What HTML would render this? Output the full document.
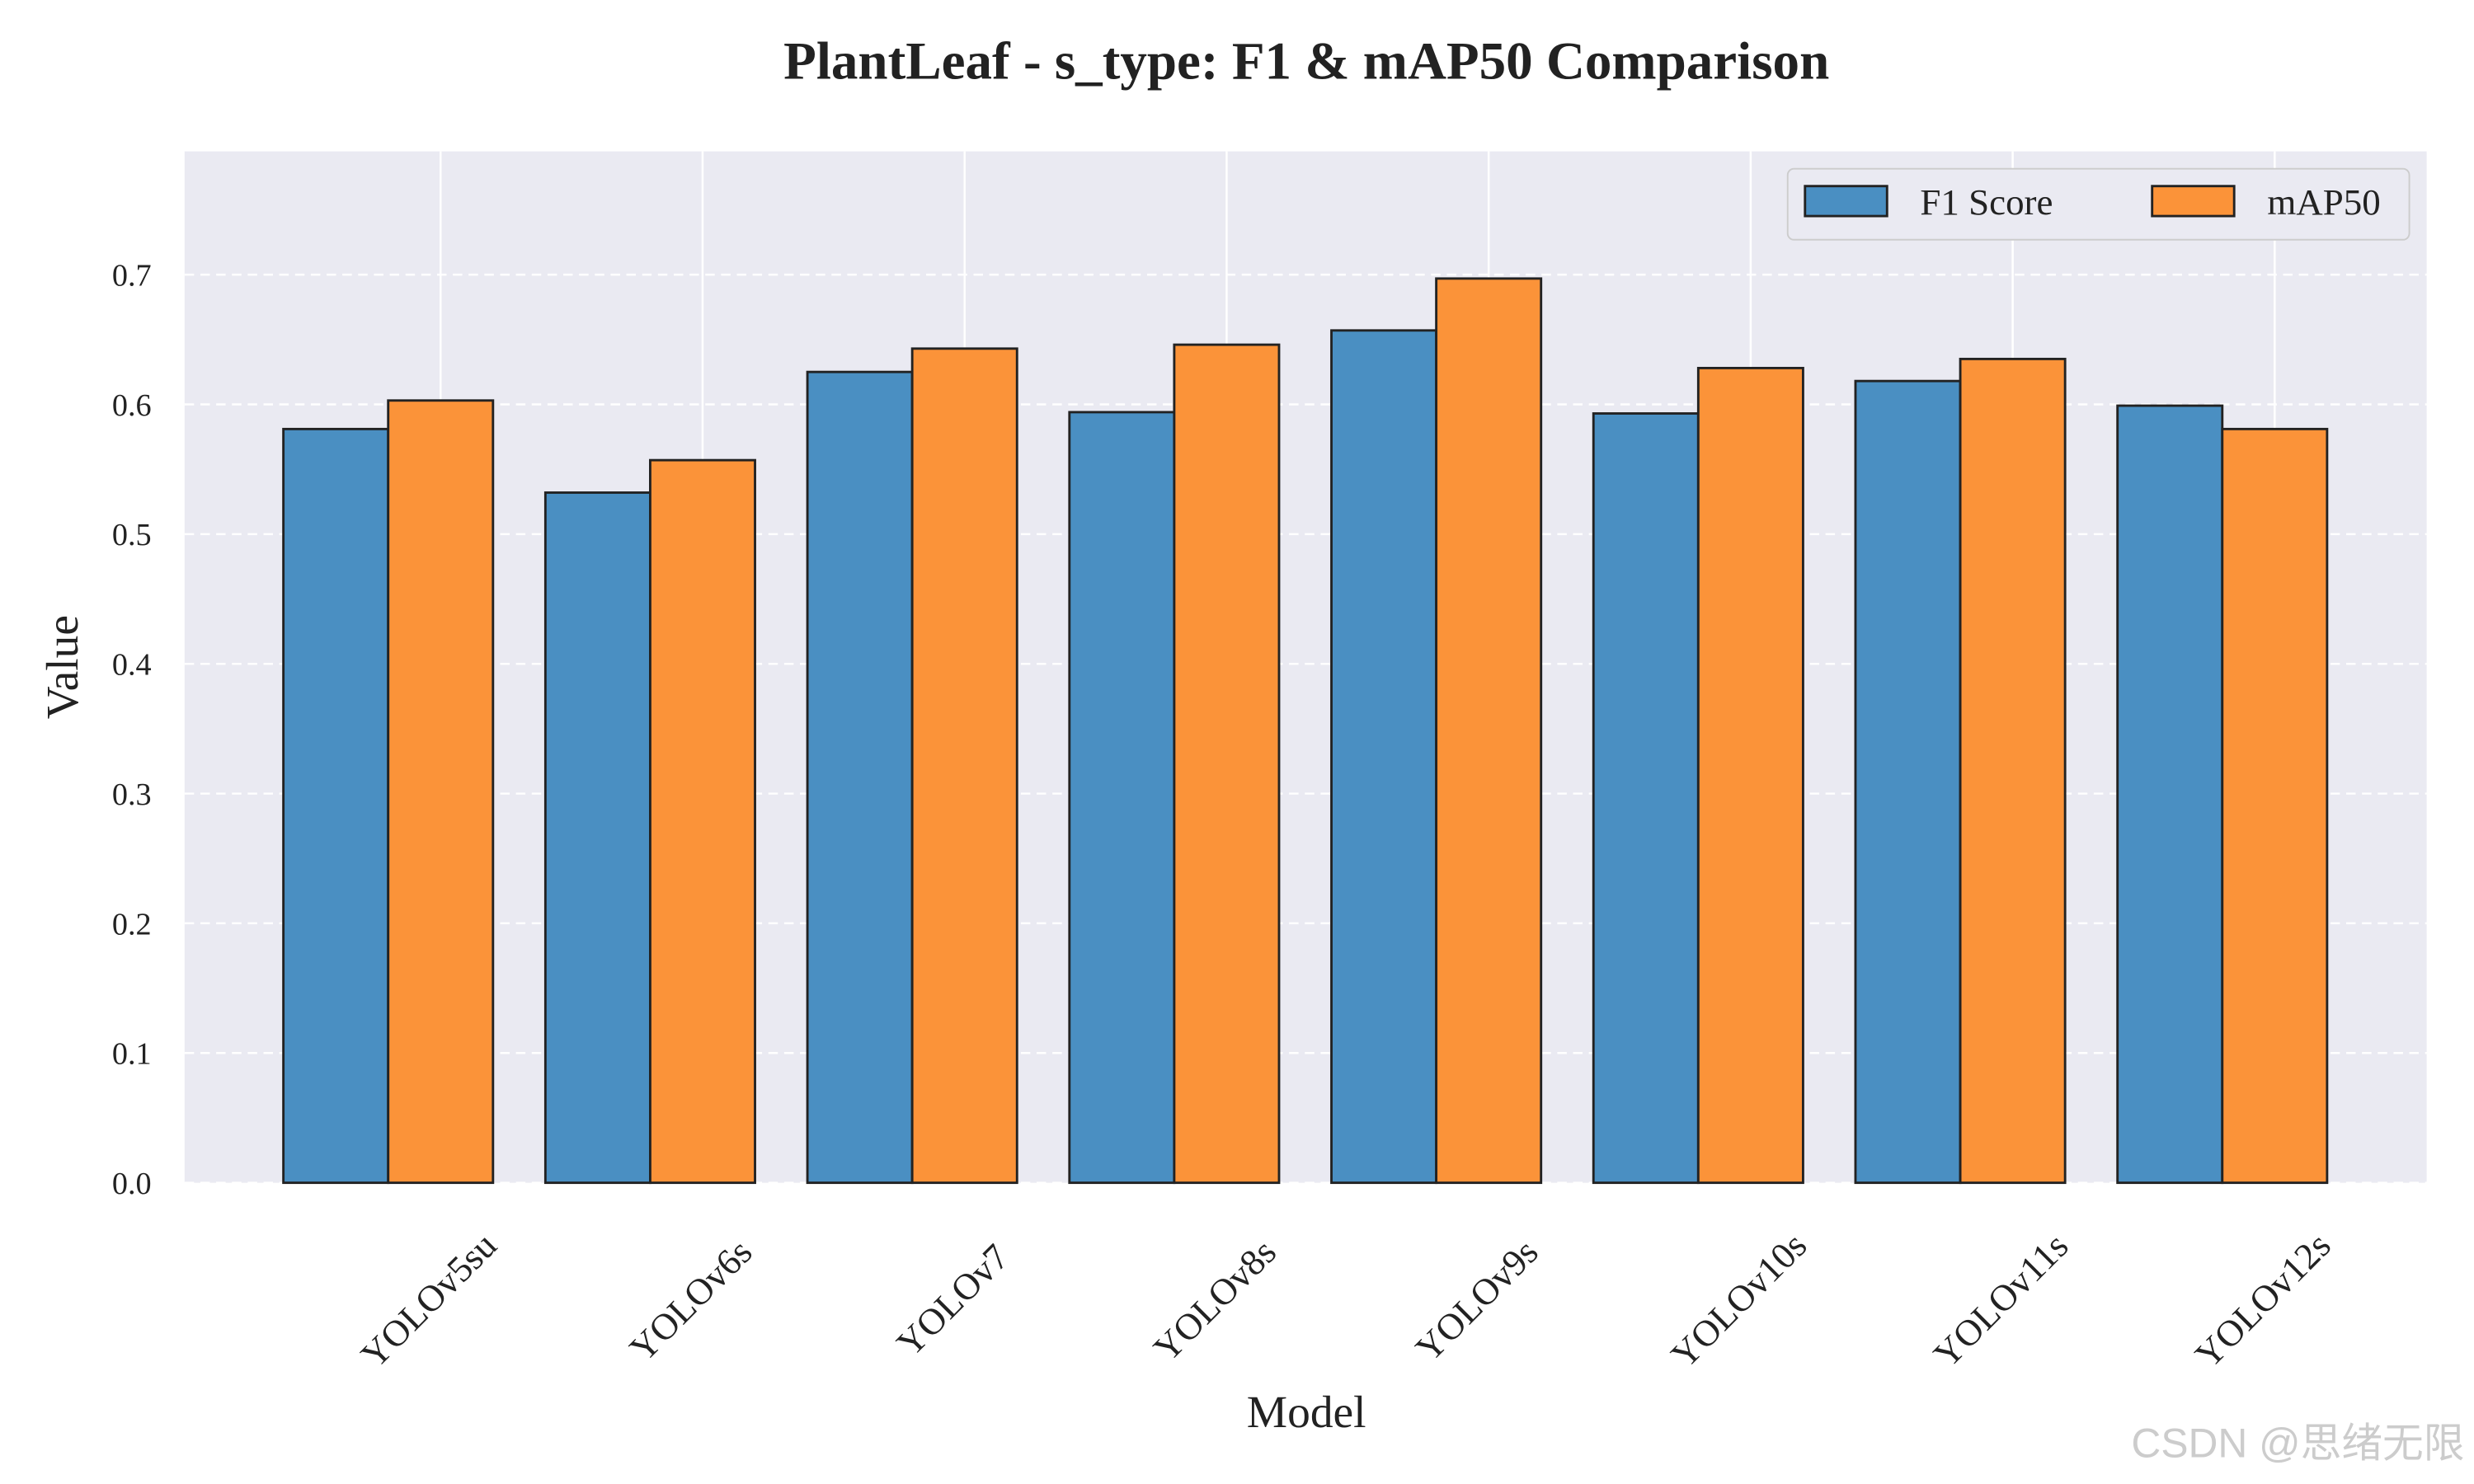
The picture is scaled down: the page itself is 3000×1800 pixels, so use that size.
<!DOCTYPE html>
<html><head><meta charset="utf-8"><style>
html,body{margin:0;padding:0;background:#fff;}
svg{display:block;font-family:"Liberation Serif","Noto Serif CJK SC",serif;}
</style></head><body>
<svg id="chart" width="3000" height="1800" viewBox="0 0 1568 941" preserveAspectRatio="none" xmlns="http://www.w3.org/2000/svg">
<rect x="0" y="0" width="1568" height="941" fill="#fff"/>
<text x="828" y="50" text-anchor="middle" font-size="34" font-weight="bold" fill="#222">PlantLeaf - s_type: F1 &amp; mAP50 Comparison</text>
<rect x="117" y="96" width="1421" height="654" fill="#eaeaf2"/>
<g id="grid"></g>
<g id="bars"></g>
<g id="yticks"></g>
<g id="xticks"></g>
<text transform="translate(49,423) rotate(-90)" text-anchor="middle" font-size="29" fill="#222">Value</text>
<text x="828" y="905" text-anchor="middle" font-size="29" fill="#222">Model</text>
<g>
<rect x="1133" y="107" width="394" height="45" rx="4" fill="#eaeaf2" stroke="#ccc" stroke-width="1"/>
<rect x="1144" y="118" width="52" height="19" fill="#4a8fc2" stroke="#222" stroke-width="1.5"/>
<text x="1217" y="136" font-size="23.5" fill="#222">F1 Score</text>
<rect x="1364" y="118" width="52" height="19" fill="#fb9339" stroke="#222" stroke-width="1.5"/>
<text x="1437" y="136" font-size="23.5" fill="#222">mAP50</text>
</g>
<text x="1562" y="924" text-anchor="end" font-size="26" fill="#ccc" font-family="Liberation Sans, Noto Sans CJK SC, sans-serif">CSDN @思绪无限</text>
</svg>
<script>
const categories = ["YOLOv5su","YOLOv6s","YOLOv7","YOLOv8s","YOLOv9s","YOLOv10s","YOLOv11s","YOLOv12s"];
const f1Values = [0.581,0.532,0.625,0.594,0.657,0.593,0.618,0.599];
const map50Values = [0.603,0.557,0.643,0.646,0.697,0.628,0.635,0.581];
const yTickLabels = ["0.0","0.1","0.2","0.3","0.4","0.5","0.6","0.7"];

const NS="http://www.w3.org/2000/svg";
const L=117,R=1538,T=96,B=750, xmin=-0.777, xmax=7.78, ymax=0.795, bw=0.4;
const sx=v=>L+(v-xmin)/(xmax-xmin)*(R-L);
const sy=v=>B-v/ymax*(B-T);
function mk(tag,attrs,parent){const e=document.createElementNS(NS,tag);for(const k in attrs)e.setAttribute(k,attrs[k]);parent.appendChild(e);return e;}
const grid=document.getElementById('grid'),bars=document.getElementById('bars'),yt=document.getElementById('yticks'),xt=document.getElementById('xticks');
yTickLabels.forEach(lab=>{
  const v=parseFloat(lab);const y=sy(v);
  const g=mk('line',{x1:L,x2:R,y1:y,y2:y,stroke:'#fff','stroke-width':1.3,'stroke-dasharray':'6 4'},grid);
  
  
  const t=mk('text',{x:96,y:y+7,'text-anchor':'end','font-size':20,fill:'#222'},yt);
  t.textContent=lab;
  
  
});
categories.forEach((c,i)=>{
  const tx=sx(i+bw/2);
  const g=mk('line',{x1:tx,x2:tx,y1:T,y2:B,stroke:'#fff','stroke-width':1.3},grid);
  
  
  const b1=mk('rect',{x:sx(i-bw),y:sy(f1Values[i]),width:sx(i)-sx(i-bw),height:B-sy(f1Values[i]),fill:'#4a8fc2',stroke:'#222','stroke-width':1.5},bars);
  
  
  const b2=mk('rect',{x:sx(i),y:sy(map50Values[i]),width:sx(i+bw)-sx(i),height:B-sy(map50Values[i]),fill:'#fb9339',stroke:'#222','stroke-width':1.5},bars);
  
  
  const t=mk('text',{x:0,y:0,'text-anchor':'middle','font-size':23.5,fill:'#222',transform:'translate('+(tx-2)+',830) rotate(-45)'},xt);
  t.textContent=c;
  
  
});
</script>
</body></html>
